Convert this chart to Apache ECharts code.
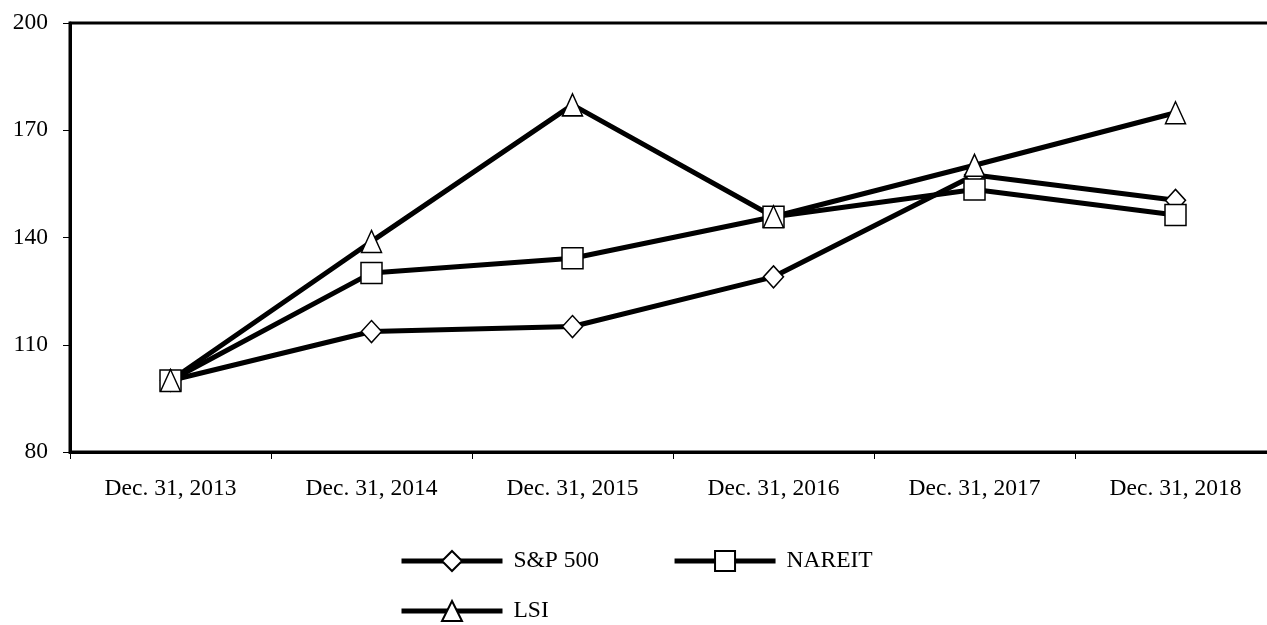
<!DOCTYPE html>
<html>
<head>
<meta charset="utf-8">
<script src="https://cdn.jsdelivr.net/npm/echarts@6/dist/echarts.min.js"></script>
<style>
  html, body { margin: 0; padding: 0; background: #fff; }
  #myChart { width: 1267px; height: 625px; }
</style>
</head>
<body>
<div id="myChart"></div>
<script>
// data
const years = ['Dec. 31, 2013', 'Dec. 31, 2014', 'Dec. 31, 2015', 'Dec. 31, 2016', 'Dec. 31, 2017', 'Dec. 31, 2018'];
const sp500 = [100, 113.7, 115.1, 129.0, 157.5, 150.4];
const nareit = [100, 130.1, 134.2, 145.8, 153.4, 146.3];
const lsi = [100, 138.9, 177.1, 145.8, 160.2, 174.9];

const font = 'Liberation Serif';

const myChart = echarts.init(document.getElementById('myChart'));

function makeSeries(name, data, symbol, size) {
  return {
    name: name,
    type: 'line',
    data: data,
    symbol: symbol,
    symbolSize: size,
    showAllSymbol: true,
    lineStyle: { color: '#000', width: 5 },
    itemStyle: { color: '#fff', borderColor: '#000', borderWidth: 1.5 },
    emphasis: { disabled: true },
    animation: false
  };
}

const legendCommon = {
  left: 394,
  itemWidth: 101,
  itemHeight: 25,
  itemGap: 73,
  lineStyle: { width: 5, color: '#000' },
  textStyle: { fontFamily: font, fontSize: 23.5, color: '#000', padding: [0, 0, 0, 6] }
};

const option = {
  backgroundColor: '#fff',
  grid: {
    left: 70, top: 23, width: 1206, height: 429,
    outerBoundsMode: 'none',
    containLabel: false,
    show: true, borderColor: '#000', borderWidth: 3
  },
  legend: [
    Object.assign({ top: 544, data: ['S&P 500', 'NAREIT'] }, legendCommon),
    Object.assign({ top: 594, data: ['LSI'] }, legendCommon)
  ],
  xAxis: {
    type: 'category',
    data: years,
    boundaryGap: true,
    axisLine: { lineStyle: { color: '#000', width: 3 } },
    axisTick: { show: true, length: 7, lineStyle: { color: '#000', width: 1 } },
    axisLabel: { color: '#000', fontFamily: font, fontSize: 23.5, margin: 25 }
  },
  yAxis: {
    type: 'value',
    min: 80, max: 200, interval: 30,
    axisLine: { show: true, lineStyle: { color: '#000', width: 3 } },
    axisTick: { show: true, length: 7, lineStyle: { color: '#000', width: 1 } },
    axisLabel: { color: '#000', fontFamily: font, fontSize: 23.5, margin: 22 },
    splitLine: { show: false }
  },
  series: [
    makeSeries('S&P 500', sp500, 'diamond', [20, 22]),
    makeSeries('NAREIT', nareit, 'rect', 21),
    makeSeries('LSI', lsi, 'triangle', [20, 22])
  ]
};

myChart.setOption(option);
</script>
</body>
</html>
